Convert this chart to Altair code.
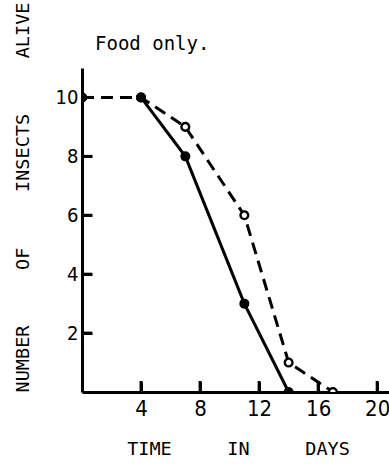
import altair as alt
import pandas as pd

# --- data ---
days_solid = [0, 4, 7, 11, 14]
alive_solid = [10, 10, 8, 3, 0]
days_dashed = [0, 4, 7, 11, 14, 17]
alive_dashed = [10, 10, 9, 6, 1, 0]
x_ticks = [4, 8, 12, 16, 20]
y_ticks = [2, 4, 6, 8, 10]

NB = "\u00a0"
gap = NB * 5
x_title = f"TIME{gap}IN{gap}DAYS"
y_title = f"NUMBER{gap}OF{gap}INSECTS{gap}ALIVE"

solid = pd.DataFrame({"day": days_solid, "alive": alive_solid})
dashed = pd.DataFrame({"day": days_dashed, "alive": alive_dashed})
xt = pd.DataFrame({"day": x_ticks, "alive": [0] * len(x_ticks)})
yt = pd.DataFrame({"day": [0] * len(y_ticks), "alive": y_ticks})

TITLE_FONT = "DejaVu Sans Mono"
LABEL_FONT = "DejaVu Sans Condensed, Liberation Sans Narrow, DejaVu Sans"

XMAX, YMAX = 20.8, 11
xscale = alt.Scale(domain=[0, XMAX], nice=False, zero=False)
yscale = alt.Scale(domain=[0, YMAX], nice=False, zero=False)

xaxis = alt.Axis(
    values=x_ticks, ticks=False, grid=False, domainWidth=3, domainColor="black",
    labelFont=LABEL_FONT, labelFontSize=22, labelColor="black", labelPadding=6,
    title=x_title, titleFont=TITLE_FONT, titleFontSize=18.5, titleFontWeight="normal",
    titleColor="black", titleX=156, titleY=56, titleAlign="center", titleBaseline="middle",
)
yaxis = alt.Axis(
    values=y_ticks, ticks=False, grid=False, domainWidth=3, domainColor="black",
    labelFont=LABEL_FONT, labelFontSize=20, labelColor="black", labelPadding=4,
    title=y_title, titleFont=TITLE_FONT, titleFontSize=18.5, titleFontWeight="normal",
    titleColor="black", titleX=-60, titleY=129, titleAngle=270,
    titleAlign="center", titleBaseline="middle",
)

X = alt.X("day:Q", scale=xscale, axis=xaxis)
Y = alt.Y("alive:Q", scale=yscale, axis=yaxis)

dashed_line = alt.Chart(dashed).mark_line(
    color="black", strokeWidth=3, strokeDash=[12, 7]
).encode(x=X, y=Y)

solid_line = alt.Chart(solid).transform_filter("datum.day >= 4").mark_line(
    color="black", strokeWidth=3
).encode(x=X, y=Y)

open_pts = alt.Chart(dashed).mark_point(
    shape="circle", filled=True, fill="white", stroke="black", strokeWidth=2.4,
    size=60, opacity=1, clip=True
).encode(x=X, y=Y)

filled_pts = alt.Chart(solid).mark_point(
    shape="circle", filled=True, color="black", size=100, opacity=1, clip=True
).encode(x=X, y=Y)

x_tick_marks = alt.Chart(xt).mark_tick(
    orient="vertical", color="black", size=11, thickness=3, yOffset=-5.5, opacity=1
).encode(x=X, y=Y)

y_tick_marks = alt.Chart(yt).mark_tick(
    orient="horizontal", color="black", size=10, thickness=3, xOffset=5, opacity=1
).encode(x=X, y=Y)

main = alt.layer(x_tick_marks, y_tick_marks, dashed_line, solid_line, open_pts, filled_pts)

# inward ticks drawn by a second pair of axes pulled 10 px into the plot
inner_x_axis = alt.Axis(
    orient="bottom", offset=-10, values=x_ticks, domain=False, labels=False,
    title=None, grid=False, ticks=True, tickSize=10, tickWidth=3, tickColor="black",
)
inner_y_axis = alt.Axis(
    orient="left", offset=-10, values=y_ticks, domain=False, labels=False,
    title=None, grid=False, ticks=True, tickSize=10, tickWidth=3, tickColor="black",
)
tick_axes = alt.Chart(xt).mark_point(opacity=0).encode(
    x=alt.X("day:Q", scale=xscale, axis=inner_x_axis),
    y=alt.Y("alive:Q", scale=yscale, axis=inner_y_axis),
)

chart = alt.layer(main, tick_axes).resolve_axis(
    x="independent", y="independent"
).properties(
    width=307,
    height=324,
    padding={"left": 82, "top": 68, "right": 0, "bottom": 72},
    autosize=alt.AutoSizeParams(type="none"),
    background="white",
    title=alt.TitleParams(
        "Food only.", anchor="start", frame="group", dx=13, offset=-67,
        baseline="alphabetic", font=TITLE_FONT, fontSize=19,
        fontWeight="normal", color="black",
    ),
).configure_view(stroke=None)

chart.save("out.html", embed_options={"renderer": "svg", "actions": False})
